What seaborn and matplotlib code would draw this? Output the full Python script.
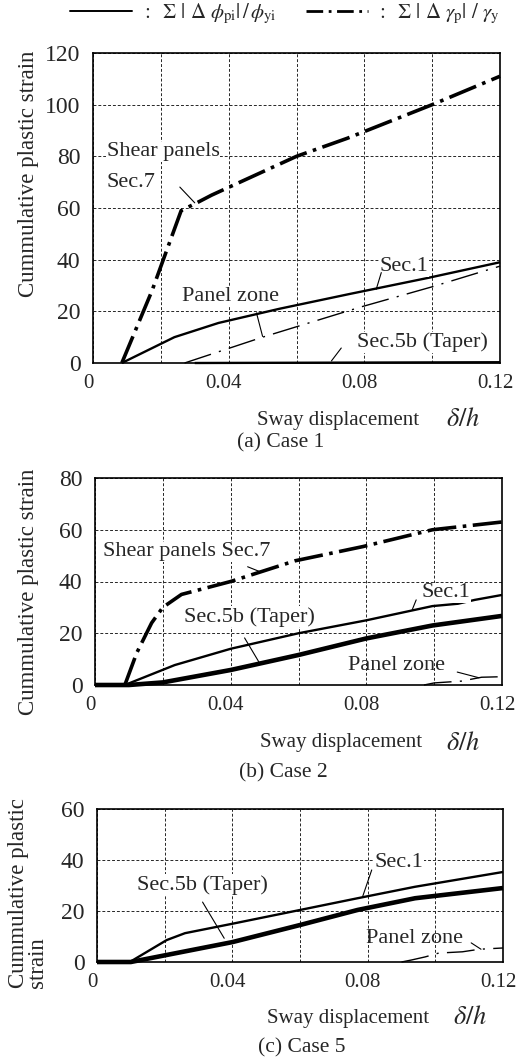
import numpy as np
import pandas as pd
import matplotlib
matplotlib.use("Agg")
import matplotlib.pyplot as plt
import matplotlib.transforms as mtransforms
from matplotlib.lines import Line2D
import seaborn as sns

# ---------------- data ----------------
# Case 1
c1_shear_x = [0.0085, 0.0174, 0.026, 0.0306, 0.035, 0.060, 0.075, 0.100, 0.120]
c1_shear_y = [0, 28, 59, 62, 65, 80, 87, 100, 111]
c1_sec1_x = [0.0085, 0.024, 0.037, 0.055, 0.0756, 0.099, 0.120]
c1_sec1_y = [0, 10, 15.5, 21, 26.7, 33, 39]
c1_pz_x = [0.027, 0.050, 0.079, 0.100, 0.120]
c1_pz_y = [0, 10, 21.7, 29.5, 37.5]
c1_sec5b_x = [0.030, 0.120]
c1_sec5b_y = [0, 0.3]

# Case 2
c2_shear_x = [0.0088, 0.0123, 0.0167, 0.020, 0.0255, 0.040, 0.059, 0.079, 0.0995, 0.120]
c2_shear_y = [0, 12.4, 24, 30, 35, 40, 48, 53.5, 60, 63]
c2_sec1_x = [0.0, 0.0088, 0.0235, 0.040, 0.060, 0.080, 0.0995, 0.107, 0.112, 0.120]
c2_sec1_y = [0, 0, 7.7, 14, 20, 25, 30.5, 31.4, 32.9, 34.8]
c2_sec5b_x = [0.0, 0.010, 0.020, 0.040, 0.060, 0.080, 0.0995, 0.120]
c2_sec5b_y = [0, 0, 1.0, 5.8, 11.6, 18, 23, 26.7]
c2_pz_x = [0.097, 0.100, 0.108, 0.114, 0.120]
c2_pz_y = [0, 0.8, 1.5, 3.0, 3.2]

# Case 5
c5_sec1_x = [0.0, 0.0097, 0.0206, 0.026, 0.040, 0.060, 0.077, 0.094, 0.120]
c5_sec1_y = [0, 0, 8.6, 11.3, 15, 20.4, 25, 29.5, 35.3]
c5_sec5b_x = [0.0, 0.010, 0.040, 0.060, 0.077, 0.094, 0.120]
c5_sec5b_y = [0, 0, 7.8, 14.5, 20.4, 25, 29]
c5_pz_x = [0.090, 0.093, 0.097, 0.101, 0.108, 0.113, 0.120]
c5_pz_y = [0, 0.8, 2.0, 3.5, 4.0, 5.0, 5.5]

x_ticks = [0, 0.02, 0.04, 0.06, 0.08, 0.10, 0.12]
x_ticklabels = ["0", "", "0.04", "", "0.08", "", "0.12"]
y_ticks_1 = [0, 20, 40, 60, 80, 100, 120]
y_ticks_2 = [0, 20, 40, 60, 80]
y_ticks_5 = [0, 20, 40, 60]
captions = ["(a) Case 1", "(b) Case 2", "(c) Case 5"]

# ---------------- style ----------------
sns.set_theme(style="white")
plt.rcParams["font.family"] = ["Liberation Serif", "DejaVu Serif"]
plt.rcParams["mathtext.fontset"] = "stix"

fig = plt.figure(figsize=(5.18, 10.62), dpi=100)
W, H = 518.0, 1062.0


def ax_at(l, t, r, b):
    return fig.add_axes([l / W, 1 - b / H, (r - l) / W, (b - t) / H])


ax1 = ax_at(93, 53, 500, 363)
ax2 = ax_at(95, 478, 502, 685)
ax3 = ax_at(97, 809, 503, 962)

STY = {
    "shear": dict(lw=2.6, dashes=(8, 1.8, 1.0, 1.8)),
    "sec1": dict(lw=1.7, dashes=None),
    "sec5b": dict(lw=3.3, dashes=None),
    "pz": dict(lw=1.0, dashes=(20, 6, 1.5, 6)),
}


def draw(ax, xs, ys, kind):
    df = pd.DataFrame({"x": xs, "y": ys})
    st = STY[kind]
    sns.lineplot(data=df, x="x", y="y", ax=ax, color="black", lw=st["lw"],
                 estimator=None, sort=False, legend=False,
                 solid_capstyle="butt", zorder=3)
    ln = ax.lines[-1]
    if st["dashes"] is not None:
        ln.set_dashes(st["dashes"])
        ln.set_dash_capstyle("butt")
    ln.set_clip_on(False)


def frame(ax, ymax, yticks):
    ax.set_xlim(0, 0.12)
    ax.set_ylim(0, ymax)
    ax.set_xticks(x_ticks)
    ax.set_xticklabels(x_ticklabels, fontsize=15)
    ax.set_yticks(yticks)
    ax.set_yticklabels([str(v) for v in yticks], fontsize=17)
    ax.tick_params(axis="both", length=0)
    ax.tick_params(axis="y", pad=9)
    ax.tick_params(axis="x", pad=8)
    ax.grid(True, color="0.15", lw=0.7, linestyle=(0, (3, 2)))
    ax.set_xlabel("")
    ax.set_ylabel("")
    for s in ax.spines.values():
        s.set_color("black")
        s.set_linewidth(1.2)
        s.set_visible(True)
    ax.set_facecolor("white")
    shift = mtransforms.ScaledTranslation(-5 / 100, 0, fig.dpi_scale_trans)
    for lab in ax.get_xticklabels():
        lab.set_transform(lab.get_transform() + shift)


draw(ax1, c1_sec5b_x, c1_sec5b_y, "sec1")
draw(ax1, c1_pz_x, c1_pz_y, "pz")
draw(ax1, c1_sec1_x, c1_sec1_y, "sec1")
draw(ax1, c1_shear_x, c1_shear_y, "shear")

draw(ax2, c2_pz_x, c2_pz_y, "pz")
draw(ax2, c2_sec5b_x, c2_sec5b_y, "sec5b")
draw(ax2, c2_sec1_x, c2_sec1_y, "sec1")
draw(ax2, c2_shear_x, c2_shear_y, "shear")

draw(ax3, c5_pz_x, c5_pz_y, "pz")
draw(ax3, c5_sec5b_x, c5_sec5b_y, "sec5b")
draw(ax3, c5_sec1_x, c5_sec1_y, "sec1")

frame(ax1, 120, y_ticks_1)
frame(ax2, 80, y_ticks_2)
frame(ax3, 60, y_ticks_5)

# ---------------- annotations ----------------
FS = 16


def label(ax, text, pos, ha="center", leader=None, box=False):
    kw = dict(fontsize=FS, ha=ha, va="center", zorder=5)
    if box:
        kw["bbox"] = dict(facecolor="white", edgecolor="none", pad=0.5)
    ax.text(pos[0], pos[1], text, **kw)
    if leader is not None:
        ax.annotate("", xy=leader[1], xytext=leader[0],
                    arrowprops=dict(arrowstyle="-", lw=0.8, color="black",
                                    shrinkA=0, shrinkB=0), zorder=5)


label(ax1, "Shear panels", (0.0041, 81.7), ha="left", box=True)
label(ax1, "Sec.7", (0.0041, 69.7), ha="left", leader=((0.0256, 68.1), (0.030, 62)))
label(ax1, "Sec.1", (0.0918, 37.2), box=True, leader=((0.085, 35.0), (0.0835, 28.5)))
label(ax1, "Panel zone", (0.0406, 25.6), box=True, leader=((0.0482, 19.4), (0.050, 10.3)))
label(ax1, "Sec.5b (Taper)", (0.097, 8.1), box=True, leader=((0.0732, 5.8), (0.0703, 0.8)))

label(ax2, "Shear panels Sec.7", (0.0271, 51.5), box=True, leader=((0.045, 45.7), (0.049, 43.6)))
label(ax2, "Sec.1", (0.1035, 35.6), box=True, leader=((0.0947, 32.9), (0.0935, 29.0)))
label(ax2, "Sec.5b (Taper)", (0.0456, 26.3), box=True, leader=((0.0441, 18.2), (0.0485, 8.5)))
label(ax2, "Panel zone", (0.0888, 7.7), leader=((0.1068, 5.0), (0.1132, 2.8)))

label(ax3, "Sec.1", (0.0891, 39.2), box=True, leader=((0.0812, 36.1), (0.0785, 25.6)))
label(ax3, "Sec.5b (Taper)", (0.0312, 30.2), box=True, leader=((0.0312, 23.5), (0.0376, 9.3)))
label(ax3, "Panel zone", (0.0938, 9.4), leader=((0.1106, 7.5), (0.1135, 5.0)))


# axis titles & captions (figure pixel positions)
def ftext(px, py, s, **kw):
    fig.text(px / W, 1 - py / H, s, **kw)


for (sx, dx, yy) in [(338, 463, 420), (341, 463, 743), (348, 470, 1018)]:
    ftext(sx, yy, "Sway displacement", fontsize=15, ha="center", va="center")
    ftext(dx, yy, r"$\delta/h$", fontsize=19, ha="center", va="center")

ftext(281, 443, captions[0], fontsize=15.5, ha="center", va="center")
ftext(283, 773, captions[1], fontsize=15.5, ha="center", va="center")
ftext(302, 1048, captions[2], fontsize=15.5, ha="center", va="center")

ftext(29, 174, "Cummulative plastic strain", fontsize=16.5, rotation=90,
      ha="center", va="center")
ftext(29, 592, "Cummulative plastic strain", fontsize=16.5, rotation=90,
      ha="center", va="center")
ftext(28, 893, "Cummulative plastic\nstrain", fontsize=16.5, rotation=90,
      ha="center", va="center", multialignment="left", linespacing=0.85)

# legend
h1 = Line2D([], [], color="black", lw=1.4)
h2 = Line2D([], [], color="black", lw=2.0, dashes=(6, 2, 1, 2))
lab1 = r"$:\ \ \Sigma\ |\ \Delta\ \phi_{\rm pi}|\,/\,\phi_{\rm yi}$"
lab2 = r"$:\ \ \Sigma\ |\ \Delta\ \gamma_{\rm p}|\ /\ \gamma_{\rm y}$"
fig.legend([h1, h2], [lab1, lab2], loc="center", bbox_to_anchor=(285 / W, 1 - 14 / H),
           ncol=2, frameon=False, fontsize=15, handlelength=3.0,
           handletextpad=0.4, columnspacing=1.4)

fig.savefig("out.png", dpi=100, facecolor="white")
